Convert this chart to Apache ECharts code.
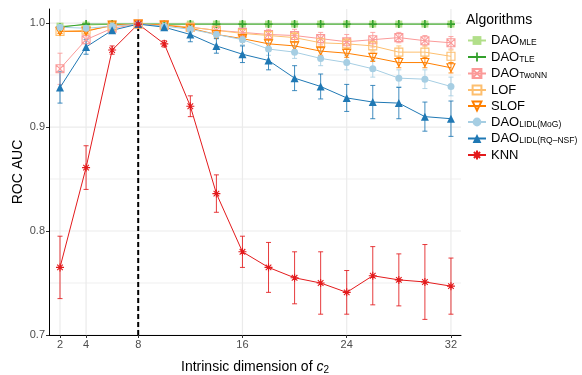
<!DOCTYPE html>
<html>
<head>
<meta charset="utf-8">
<script src="https://cdn.jsdelivr.net/npm/echarts@6/dist/echarts.min.js"></script>
</head>
<body style="margin:0">
<div id="main" style="width:582px;height:375px"></div>
<script>
// intrinsic dimension of c2 (x values)
var dims = [2, 4, 6, 8, 10, 12, 14, 16, 18, 20, 22, 24, 26, 28, 30, 32];
var xBreaks = [2, 4, 8, 16, 24, 32];
var yBreaks = [0.7, 0.8, 0.9, 1.0];
var yGrid = [0.7, 0.75, 0.8, 0.85, 0.9, 0.95, 1.0];

var names = ['DAO_MLE', 'DAO_TLE', 'DAO_TwoNN', 'LOF', 'SLOF', 'DAO_LIDL(MoG)', 'DAO_LIDL(RQ\u2013NSF)', 'KNN'];
var colors = ['#b2df8a', '#33a02c', '#fb9a99', '#fdbf6f', '#ff7f00', '#a6cee3', '#1f78b4', '#e31a1c'];

// mean ROC AUC
var mleMean   = [0.997, 0.998, 0.999, 0.999, 0.999, 0.999, 0.999, 0.999, 0.999, 0.999, 0.999, 0.999, 0.999, 0.999, 0.999, 0.999];
var tleMean   = [0.996, 0.999, 0.999, 0.999, 0.999, 0.999, 0.999, 0.999, 0.999, 0.999, 0.999, 0.999, 0.999, 0.999, 0.999, 0.999];
var twonnMean = [0.956, 0.984, 0.995, 0.999, 0.998, 0.996, 0.993, 0.991, 0.989, 0.988, 0.985, 0.982, 0.984, 0.986, 0.983, 0.981];
var lofMean   = [0.992, 0.993, 0.997, 0.999, 0.998, 0.996, 0.993, 0.990, 0.988, 0.986, 0.981, 0.980, 0.978, 0.972, 0.972, 0.968];
var slofMean  = [0.992, 0.992, 0.998, 0.999, 0.998, 0.995, 0.989, 0.985, 0.980, 0.978, 0.973, 0.971, 0.967, 0.962, 0.962, 0.957];
var mogMean   = [0.996, 0.995, 0.997, 0.999, 0.997, 0.994, 0.989, 0.984, 0.975, 0.972, 0.966, 0.962, 0.956, 0.947, 0.946, 0.939];
var nsfMean   = [0.938, 0.977, 0.993, 0.999, 0.996, 0.989, 0.978, 0.970, 0.964, 0.947, 0.939, 0.928, 0.924, 0.923, 0.910, 0.908];
var knnMean   = [0.765, 0.861, 0.974, 0.999, 0.980, 0.920, 0.836, 0.780, 0.765, 0.755, 0.750, 0.741, 0.757, 0.753, 0.751, 0.747];

// standard deviations (error bars)
var mleSd   = [0.002, 0.001, 0.001, 0.001, 0.001, 0.001, 0.001, 0.001, 0.001, 0.001, 0.001, 0.001, 0.001, 0.001, 0.001, 0.001];
var tleSd   = [0.001, 0.001, 0.001, 0.001, 0.001, 0.001, 0.001, 0.001, 0.001, 0.001, 0.001, 0.001, 0.001, 0.001, 0.001, 0.001];
var twonnSd = [0.015, 0.004, 0.002, 0.001, 0.001, 0.002, 0.003, 0.004, 0.005, 0.006, 0.006, 0.007, 0.007, 0.005, 0.005, 0.006];
var lofSd   = [0.002, 0.002, 0.001, 0.001, 0.001, 0.002, 0.003, 0.004, 0.004, 0.005, 0.005, 0.005, 0.005, 0.006, 0.006, 0.006];
var slofSd  = [0.002, 0.002, 0.001, 0.001, 0.001, 0.002, 0.003, 0.003, 0.004, 0.004, 0.004, 0.004, 0.004, 0.005, 0.005, 0.005];
var mogSd   = [0.002, 0.003, 0.002, 0.001, 0.002, 0.003, 0.004, 0.005, 0.006, 0.006, 0.007, 0.007, 0.008, 0.008, 0.009, 0.009];
var nsfSd   = [0.015, 0.007, 0.003, 0.001, 0.002, 0.007, 0.007, 0.008, 0.009, 0.012, 0.012, 0.013, 0.016, 0.015, 0.014, 0.017];
var knnSd   = [0.030, 0.021, 0.004, 0.001, 0.003, 0.010, 0.018, 0.015, 0.024, 0.025, 0.030, 0.021, 0.028, 0.025, 0.036, 0.027];

var means = [mleMean, tleMean, twonnMean, lofMean, slofMean, mogMean, nsfMean, knnMean];
var sds = [mleSd, tleSd, twonnSd, lofSd, slofSd, mogSd, nsfSd, knnSd];

// ggplot-like point shapes
var shapes = [
  {symbol: 'rect', filled: true, size: 7},
  {symbol: 'path://M4,0H6V4H10V6H6V10H4V6H0V4H4Z', filled: true, size: 8},
  {symbol: 'path://M0,0H10V10H0ZM0,0L10,10M10,0L0,10', filled: false, size: 8},
  {symbol: 'path://M0,0H10V10H0Z', filled: false, size: 8},
  {symbol: 'path://M0,0H10L5,9Z', filled: false, size: 8},
  {symbol: 'circle', filled: true, size: 7},
  {symbol: 'triangle', filled: true, size: 8},
  {symbol: 'path://M5,0V10M0,5H10M1.5,1.5L8.5,8.5M8.5,1.5L1.5,8.5', filled: false, size: 8}
];

var xMin = 1.155, xMax = 32.77;
var yMin = 0.7, yMax = 1.0135;

var chart = echarts.init(document.getElementById('main'));

function errRender(color) {
  return function (params, api) {
    var x = api.value(0);
    var lo = api.coord([x, api.value(1)]);
    var hi = api.coord([x, api.value(2)]);
    var w = 2.5;
    var st = {stroke: color, lineWidth: 1, opacity: 0.85};
    return {type: 'group', children: [
      {type: 'line', shape: {x1: lo[0], y1: lo[1], x2: hi[0], y2: hi[1]}, style: st},
      {type: 'line', shape: {x1: lo[0] - w, y1: lo[1], x2: lo[0] + w, y2: lo[1]}, style: st},
      {type: 'line', shape: {x1: hi[0] - w, y1: hi[1], x2: hi[0] + w, y2: hi[1]}, style: st}
    ]};
  };
}

var series = [];

// grid lines
series.push({
  type: 'custom', silent: true, z: 0,
  data: yGrid.map(function (v) { return [xMin, v]; }),
  renderItem: function (params, api) {
    var cs = params.coordSys;
    var p = api.coord([xMin, api.value(1)]);
    var major = Math.abs(api.value(1) * 10 - Math.round(api.value(1) * 10)) < 1e-6;
    return {type: 'line', shape: {x1: cs.x, y1: p[1], x2: cs.x + cs.width, y2: p[1]},
      style: {stroke: '#ebebeb', lineWidth: major ? 1.2 : 0.8}};
  }
});
series.push({
  type: 'custom', silent: true, z: 0,
  data: xBreaks.map(function (v) { return [v, yMin]; }),
  renderItem: function (params, api) {
    var cs = params.coordSys;
    var p = api.coord([api.value(0), yMin]);
    return {type: 'line', shape: {x1: p[0], y1: cs.y, x2: p[0], y2: cs.y + cs.height},
      style: {stroke: '#ebebeb', lineWidth: 1.2}};
  }
});
// dashed reference line at x = 8
series.push({
  type: 'custom', silent: true, z: 1,
  data: [[8, 0.7, 1.0]],
  renderItem: function (params, api) {
    var a = api.coord([api.value(0), api.value(1)]);
    var b = api.coord([api.value(0), api.value(2)]);
    return {type: 'line', shape: {x1: a[0], y1: a[1], x2: b[0], y2: b[1]},
      style: {stroke: '#000', lineWidth: 2, lineDash: [5, 3]}};
  }
});

names.forEach(function (n, k) {
  var c = colors[k];
  series.push({
    type: 'custom', silent: true, z: 2,
    data: dims.map(function (d, i) { return [d, means[k][i] - sds[k][i], means[k][i] + sds[k][i]]; }),
    renderItem: errRender(c)
  });
  var sh = shapes[k];
  series.push({
    name: n, type: 'line', z: 3,
    data: dims.map(function (d, i) { return [d, means[k][i]]; }),
    symbol: sh.symbol, symbolSize: sh.size, showAllSymbol: true,
    lineStyle: {color: c, width: 1},
    itemStyle: sh.filled ? {color: c} : {color: 'rgba(0,0,0,0)', borderColor: c, borderWidth: 1.1}
  });
});

chart.setOption({
  animation: false,
  textStyle: {fontFamily: 'Liberation Sans, Arial, sans-serif'},
  grid: {left: 49, top: 9, width: 412, height: 326, containLabel: false, outerBoundsMode: 'none'},
  title: {text: 'Algorithms', left: 461, top: 8,
    textStyle: {fontSize: 14, fontWeight: 'normal', color: '#000'}},
  legend: {
    orient: 'vertical', left: 462, top: 29, itemWidth: 18, itemHeight: 11, itemGap: 3,
    data: names,
    formatter: function (n) {
      var p = n.split('_');
      return p.length > 1 ? '{b|' + p[0] + '}{s|' + p[1] + '}' : '{b|' + n + '}';
    },
    textStyle: {color: '#000', fontSize: 13,
      rich: {b: {fontSize: 13, color: '#000'}, s: {fontSize: 8.5, color: '#000', padding: [5, 0, 0, 0]}}}
  },
  xAxis: {
    type: 'value', min: xMin, max: xMax,
    name: 'Intrinsic dimension of {i|c}{s|2}', nameLocation: 'middle', nameGap: 24,
    nameTextStyle: {fontSize: 14, color: '#000',
      rich: {i: {fontSize: 14, fontStyle: 'italic', color: '#000'}, s: {fontSize: 10, color: '#000', padding: [6, 0, 0, 0]}}},
    axisLine: {show: true, onZero: false, lineStyle: {color: '#000', width: 1}},
    axisTick: {show: true, customValues: xBreaks, length: 3, lineStyle: {color: '#333'}},
    axisLabel: {customValues: xBreaks, color: '#4d4d4d', fontSize: 11, margin: 4},
    splitLine: {show: false}
  },
  yAxis: {
    type: 'value', min: yMin, max: yMax,
    name: 'ROC AUC', nameLocation: 'middle', nameGap: 24, nameMoveOverlap: false,
    nameTextStyle: {fontSize: 14, color: '#000'},
    axisLine: {show: true, onZero: false, lineStyle: {color: '#000', width: 1}},
    axisTick: {show: true, customValues: yBreaks, length: 3, lineStyle: {color: '#333'}},
    axisLabel: {customValues: yBreaks, color: '#4d4d4d', fontSize: 11, margin: 4,
      formatter: function (v) { return v.toFixed(1); }},
    splitLine: {show: false}
  },
  series: series
});
</script>
</body>
</html>
